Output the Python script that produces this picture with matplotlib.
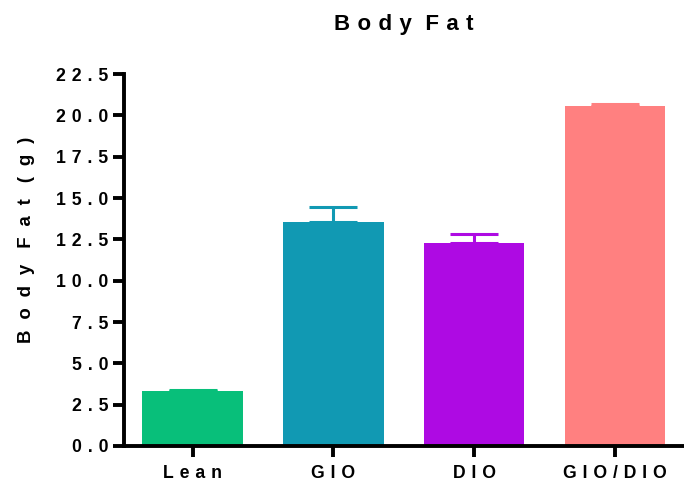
import matplotlib.pyplot as plt

# Data
groups = ['Lean', 'GIO', 'DIO', 'GIO/DIO']
means = [3.3, 13.55, 12.3, 20.55]
sem = [0.08, 0.9, 0.5, 0.15]
colors = ['#08bf7a', '#1199b3', '#ae0ae3', '#ff8080']
yticks = [0, 2.5, 5, 7.5, 10, 12.5, 15, 17.5, 20, 22.5]


def spaced(s, gap='\u2004'):
    # mimic the wide letter spacing of the original
    return gap.join(s).replace(gap + ' ' + gap, ' ' + gap)


plt.rcParams['font.family'] = ['Liberation Sans', 'DejaVu Sans']
plt.rcParams['font.weight'] = 'bold'

fig = plt.figure(figsize=(6.84, 4.92), dpi=100)
ax = fig.add_axes([0.1806, 0.0935, 0.8194, 0.756])

x = range(len(groups))
ax.bar(x, means, width=0.714, color=colors, zorder=2)

# upper error bars only, same colour as bar
for xi, m, e, c in zip(x, means, sem, colors):
    ax.errorbar(xi, m, yerr=[[0], [e]], color=c, elinewidth=2.2,
                capsize=17, capthick=2.2, zorder=1)

ax.set_xlim(-0.49, 3.49)
ax.set_ylim(0, 22.5)
ax.set_yticks(yticks)
ax.set_yticklabels([spaced(f'{v:.1f}') for v in yticks])
ax.set_xticks(list(x))
ax.set_xticklabels([spaced(g) for g in groups])

for s in ['top', 'right']:
    ax.spines[s].set_visible(False)
for s in ['left', 'bottom']:
    ax.spines[s].set_linewidth(2.8)
ax.tick_params(axis='both', width=2.8, length=8, labelsize=12.7, pad=3)
ax.tick_params(axis='x', pad=6)

ax.set_ylabel(spaced('Body Fat (g)', '\u2002\u200a'), fontsize=13.4, fontweight='bold')
ax.yaxis.set_label_coords(-0.158, 0.554)
ax.set_title(spaced('Body Fat'), fontsize=16, fontweight='bold', pad=32)

fig.savefig('out.png', dpi=100)
